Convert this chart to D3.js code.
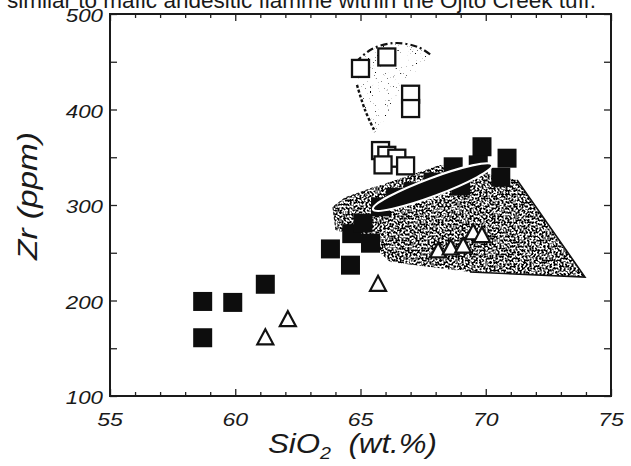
<!DOCTYPE html>
<html><head><meta charset="utf-8">
<script src="https://cdn.jsdelivr.net/npm/d3@7"></script>
<style>
html,body{margin:0;padding:0;background:#fff;}
svg{display:block;}
text{font-family:"Liberation Sans",Arial,Helvetica,sans-serif;fill:#1a1a1a;}
</style></head>
<body>
<svg id="chart" width="631" height="466"></svg>
<script>
// ---- data (SiO2 wt.%, Zr ppm) ----
const filledSiO2 = [58.7, 59.9, 61.2, 58.7, 63.8, 64.6, 64.65, 65.4, 65.1, 65.8, 66.4, 67.1, 67.9, 68.7, 69.0, 69.85, 69.7, 70.85, 70.6];
const filledZr   = [199, 198, 217, 161, 254, 237, 270, 260, 281, 298, 308, 314, 324, 340, 320, 361, 342, 349, 329];
const openSqSiO2 = [65.0, 66.05, 67.0, 67.0, 65.8, 66.05, 66.45, 66.8, 65.9];
const openSqZr   = [443, 455, 416, 401, 357, 352, 349, 341, 342];
const triSiO2    = [61.2, 62.1, 65.7, 68.1, 68.6, 69.1, 69.5, 69.85];
const triZr      = [162, 181, 218, 253, 256, 258, 272, 269];
// stippled field (lower right fan)
const fanSiO2 = [64.02, 63.9, 64.38, 65.58, 68.17, 71.25, 73.96, 69.37, 66.18, 65.46];
const fanZr   = [273.8, 297.9, 307.3, 318.8, 341.9, 326.2, 224.6, 229.8, 240.3, 258.1];
// sparse field around open squares
const upSiO2 = [64.82, 65.46, 66.38, 67.30, 67.81, 67.18, 66.50, 65.98, 65.58, 65.18, 64.86];
const upZr   = [449.7, 463.4, 469.6, 465.4, 457.1, 439.3, 415.2, 389.0, 376.4, 399.5, 425.7];
// ellipse long-axis end points
const ellSiO2 = [65.5, 70.25];
const ellZr   = [295.5, 342];
const xTicksMajor = [55, 60, 65, 70, 75];
const yTicksMajor = [100, 200, 300, 400, 500];
const title = "similar to mafic andesitic flamme within the Ojito Creek tuff.";
const xTitle = "SiO";
const yTitle = "Zr (ppm)";

// ---- layout ----
const svg = d3.select("#chart");
const L = 110, R = 611, T = 14, B = 396;
const x = d3.scaleLinear().domain([55, 75]).range([L, R]);
const y = d3.scaleLinear().domain([100, 500]).range([B, T]);

const defs = svg.append("defs");
function stipple(id, freq, oct, a, b, seed) {
  const f = defs.append("filter").attr("id", id).attr("x", "-5%").attr("y", "-5%").attr("width", "110%").attr("height", "110%");
  f.append("feTurbulence").attr("type", "fractalNoise").attr("baseFrequency", freq).attr("numOctaves", oct).attr("seed", seed).attr("result", "n");
  f.append("feColorMatrix").attr("in", "n").attr("type", "matrix")
    .attr("values", `0 0 0 0 0  0 0 0 0 0  0 0 0 0 0  ${a} 0 0 0 ${b}`).attr("result", "d");
  f.append("feComposite").attr("in", "d").attr("in2", "SourceAlpha").attr("operator", "in");
}
stipple("stipDense", 0.5, 3, 7, -3.0, 7);
stipple("stipSparse", 0.6, 3, 9, -6.4, 3);

svg.append("text").attr("x", 7).attr("y", 8).attr("font-size", 22)
  .attr("textLength", 589).attr("lengthAdjust", "spacingAndGlyphs").text(title);

const plot = svg.append("g");
const pts = (xs, ys) => xs.map((v, i) => [x(v), y(ys[i])]);

// fan field
const fan = pts(fanSiO2, fanZr);
plot.append("path").attr("d", "M" + fan.join("L") + "Z").attr("fill", "#000").attr("filter", "url(#stipDense)");
plot.append("path").attr("d", "M" + [fan[5], fan[6], fan[7]].join("L")).attr("fill", "none").attr("stroke", "#111").attr("stroke-width", 1.6);
plot.append("path").attr("d", "M" + [fan[0], fan[1], fan[2], fan[3]].join("L")).attr("fill", "none").attr("stroke", "#222").attr("stroke-width", 1.2).attr("stroke-dasharray", "3,2");

// upper sparse field
const up = pts(upSiO2, upZr);
plot.append("path").attr("d", "M" + up.join("L") + "Z").attr("fill", "#000").attr("filter", "url(#stipSparse)");
const arc = d3.line().curve(d3.curveCatmullRom);
plot.append("path").attr("d", arc(up.slice(0, 5))).attr("fill", "none").attr("stroke", "#111").attr("stroke-width", 2.2).attr("stroke-dasharray", "7,3,2,3");
plot.append("path").attr("d", arc([up[10], up[9], up[8]])).attr("fill", "none").attr("stroke", "#111").attr("stroke-width", 2.4).attr("stroke-dasharray", "3,2");

// filled squares
const fs = 19;
plot.selectAll(".fsq").data(filledSiO2).join("rect").attr("class", "fsq")
  .attr("x", (d, i) => x(d) - fs / 2).attr("y", (d, i) => y(filledZr[i]) - fs / 2)
  .attr("width", fs).attr("height", fs).attr("fill", "#0d0d0d");

// ellipse
{
  const p1 = [x(ellSiO2[0]), y(ellZr[0])], p2 = [x(ellSiO2[1]), y(ellZr[1])];
  const cx = (p1[0] + p2[0]) / 2, cy = (p1[1] + p2[1]) / 2;
  const rx = Math.hypot(p2[0] - p1[0], p2[1] - p1[1]) / 2;
  const ang = Math.atan2(p2[1] - p1[1], p2[0] - p1[0]) * 180 / Math.PI;
  plot.append("ellipse").attr("cx", cx).attr("cy", cy).attr("rx", rx).attr("ry", 9)
    .attr("transform", `rotate(${ang},${cx},${cy})`)
    .attr("fill", "#0d0d0d").attr("stroke", "#fff").attr("stroke-width", 2.2);
}

// open squares
const os = 17;
plot.selectAll(".osq").data(openSqSiO2).join("rect").attr("class", "osq")
  .attr("x", d => x(d) - os / 2).attr("y", (d, i) => y(openSqZr[i]) - os / 2)
  .attr("width", os).attr("height", os).attr("fill", "#fff").attr("stroke", "#111").attr("stroke-width", 2.3);

// triangles
const tw = 16, th = 15;
plot.selectAll(".tri").data(triSiO2).join("path").attr("class", "tri")
  .attr("d", (d, i) => {
    const cx = x(d), cy = y(triZr[i]);
    return `M${cx},${cy - th / 2}L${cx + tw / 2},${cy + th / 2}L${cx - tw / 2},${cy + th / 2}Z`;
  })
  .attr("fill", "#fff").attr("stroke", "#111").attr("stroke-width", 2.2).attr("stroke-linejoin", "miter");

// ---- axes ----
const xTicks = d3.range(55, 75.01, 1);
const yTicks = d3.range(100, 500.01, 50);
const ax = svg.append("g");
function tickLines(g, axis) {
  g.call(axis);
  g.select(".domain").remove();
  g.selectAll("text").remove();
  g.selectAll("line").attr("stroke", "#222").attr("stroke-width", 1.3);
}
ax.append("g").attr("transform", `translate(0,${B})`)
  .call(g => tickLines(g, d3.axisTop(x).tickValues(xTicks).tickSize(4)))
  .selectAll(".tick line").attr("y2", d => d % 5 === 0 ? -7 : -4);
ax.append("g").attr("transform", `translate(0,${T})`)
  .call(g => tickLines(g, d3.axisBottom(x).tickValues(xTicks).tickSize(4)))
  .selectAll(".tick line").attr("y2", d => d % 5 === 0 ? 7 : 4);
ax.append("g").attr("transform", `translate(${L},0)`)
  .call(g => tickLines(g, d3.axisRight(y).tickValues(yTicks).tickSize(7)));
ax.append("g").attr("transform", `translate(${R},0)`)
  .call(g => tickLines(g, d3.axisLeft(y).tickValues(yTicks).tickSize(7)));

// frame
svg.append("rect").attr("x", L).attr("y", T).attr("width", R - L).attr("height", B - T)
  .attr("fill", "none").attr("stroke", "#1a1a1a").attr("stroke-width", 2);

// tick labels
svg.selectAll(".xl").data(xTicksMajor).join("text").attr("class", "xl")
  .attr("x", d => x(d)).attr("y", 426).attr("text-anchor", "middle")
  .attr("font-size", 18).attr("font-style", "italic")
  .attr("textLength", d => String(d).length * 12.8).attr("lengthAdjust", "spacingAndGlyphs")
  .text(d => d);
svg.selectAll(".yl").data(yTicksMajor).join("text").attr("class", "yl")
  .attr("x", 103).attr("y", d => y(d) + 8).attr("text-anchor", "end")
  .attr("font-size", 18).attr("font-style", "italic")
  .attr("textLength", d => String(d).length * 12.4).attr("lengthAdjust", "spacingAndGlyphs")
  .text(d => d);

// axis titles
const xt = svg.append("text").attr("x", 268).attr("y", 453).attr("font-size", 27).attr("font-style", "italic")
  .attr("textLength", 169).attr("lengthAdjust", "spacingAndGlyphs");
xt.append("tspan").text(xTitle);
xt.append("tspan").attr("font-size", 17).attr("dy", 6).text("2");
xt.append("tspan").attr("dy", -6).text("\u00a0 (wt.%)");
svg.append("text").attr("transform", "translate(37,196) rotate(-90)").attr("text-anchor", "middle")
  .attr("font-size", 27).attr("font-style", "italic")
  .attr("textLength", 128).attr("lengthAdjust", "spacingAndGlyphs").text(yTitle);
</script>
</body></html>
